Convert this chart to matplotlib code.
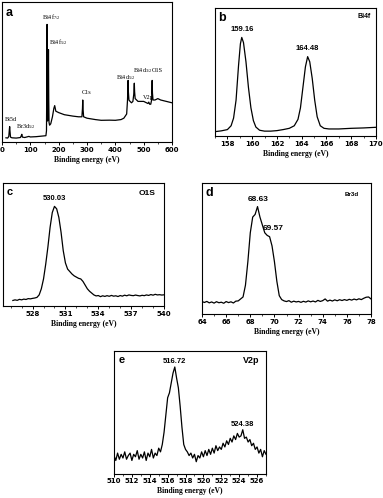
import numpy as np
import matplotlib
matplotlib.use("Agg")
import matplotlib.pyplot as plt
from matplotlib.ticker import MultipleLocator

plt.rcParams["mathtext.fontset"] = "custom"
plt.rcParams["mathtext.rm"] = "Liberation Serif"
plt.rcParams["mathtext.it"] = "Liberation Serif"
plt.rcParams["mathtext.default"] = "rm"

# ---- data (intensity in arbitrary units, 0-100 of frame) ----
# a: survey
a_energy = [14, 20, 24, 26, 27, 28.5, 30, 35, 50, 65, 68, 70, 72, 80, 95, 100, 120, 140,
            155, 157, 158, 159, 160, 161, 163, 164, 165, 166, 168, 172, 178, 183, 186, 190,
            200, 220, 250, 270, 282, 284, 285, 286, 288, 300, 330, 350, 380, 400, 420, 430,
            440, 443, 445, 446, 448, 452, 457, 462, 465, 467, 468, 470, 480, 490, 500, 510,
            515, 518, 521, 525, 528, 530, 531, 533, 540, 550, 560, 580, 600]
a_int = [3.0, 2.8, 4, 9, 11, 7, 3.5, 3.0, 2.8, 3.2, 4.5, 5.5, 3.5, 3.2, 4.0, 3.6, 3.8, 4.2,
         4.5, 8, 40, 84, 40, 15, 30, 66, 30, 14, 12, 13, 18, 24, 26, 22,
         21, 19.5, 18.5, 18, 18, 24, 30, 24, 18, 17, 16, 15.5, 15.6, 15.5, 16, 17,
         20, 30, 44, 36, 30, 29, 28, 29, 34, 42, 36, 31, 29, 29, 29, 28,
         27.5, 28.5, 27, 27, 30, 44, 35, 30, 30, 31, 30, 29, 28]

# b: Bi4f
b_energy = [157.0, 157.5, 158.0, 158.3, 158.5, 158.7, 158.9, 159.05, 159.16, 159.3, 159.5,
            159.7, 159.9, 160.1, 160.3, 160.6, 161.0, 161.5, 162.0, 162.5, 163.0, 163.4,
            163.7, 163.9, 164.1, 164.3, 164.48, 164.65, 164.85, 165.05, 165.25, 165.5,
            165.8, 166.2, 167.0, 168.0, 169.0, 170.0]
b_int = [3.4, 4.0, 5.0, 8, 14, 28, 55, 72, 77, 73, 58,
         38, 22, 12, 7, 4.5, 3.8, 3.8, 4.2, 5.0, 6.0, 8,
         13, 22, 38, 54, 62, 58, 45, 28, 15, 8,
         6, 5.5, 5.5, 6.0, 6.3, 6.8]

# c: O1S (526.2 .. 540.0, step 0.2)
c_int = [4.5, 5.0, 4.6, 5.4, 5.0, 5.6, 5.3, 6.0, 5.8, 6.2,
         6.5, 7.0, 9, 14, 22, 34, 48, 64, 76, 81,
         79, 72, 60, 45, 35, 30, 28, 26, 24.5, 23.5,
         22.5, 22, 20, 17, 14, 12, 10.5, 9.0, 8.2, 8.5,
         7.6, 8.3, 7.8, 8.4, 7.9, 8.6, 8.0, 8.3, 7.7, 8.5,
         8.0, 8.8, 8.3, 9.0, 8.6, 8.4, 8.9, 8.5, 8.2, 8.7,
         8.4, 9.0, 8.6, 9.3, 8.8, 9.5, 9.0, 9.2, 8.9, 9.1]

# d: Br3d (64.0 .. 78.0, step 0.2)
d_int = [9.5, 8.8, 9.6, 8.5, 9.2, 8.3, 9.4, 8.6, 9.0, 8.2,
         9.5, 8.7, 9.3, 8.4, 9.8, 10.0, 11.5, 13, 22, 40,
         62, 74, 76, 82, 74, 68, 62, 60, 59, 52,
         40, 25, 14, 11, 10, 9.5, 10.2, 9.0, 9.8, 9.2,
         9.6, 8.9, 9.7, 9.1, 10.0, 9.3, 9.9, 9.2, 10.4, 9.6,
         10.2, 11.5, 9.8, 10.6, 9.9, 10.8, 10.1, 10.9, 10.3, 11.0,
         10.4, 11.2, 10.6, 11.4, 10.8, 11.6, 11.0, 12.0, 12.8, 13.0,
         11.5]

# e: V2p (510.0 .. 527.0, step 0.2)
e_int = [15, 11, 17, 12, 16, 13, 18, 12, 15, 17,
         11, 16, 14, 19, 12, 16, 13, 18, 11, 17,
         14, 20, 13, 17, 15, 21, 18, 24, 34, 48,
         62, 66, 74, 82, 87, 78, 70, 55, 38, 24,
         20, 18, 15, 17, 13, 16, 10, 15, 13, 18,
         14, 19, 15, 20, 16, 21, 17, 23, 19, 22,
         20, 25, 22, 27, 24, 29, 26, 31, 28, 33,
         30, 31, 36, 29, 30, 26, 28, 23, 25, 20,
         22, 17, 20, 14, 19, 16]

c_energy = np.round(np.arange(526.2, 540.01, 0.2), 1)
d_energy = np.round(np.arange(64.0, 78.01, 0.2), 1)
e_energy = np.round(np.arange(510.0, 527.01, 0.2), 1)

W, H = 383, 498
fig = plt.figure(figsize=(W / 100, H / 100), dpi=100)


def box(l, t, r, b):
    return [l / W, (H - b) / H, (r - l) / W, (b - t) / H]


def setup(ax, xlim, major, minor, pad=1.5, labelpad=2):
    ax.set_xlim(*xlim)
    ax.set_ylim(0, 100)
    ax.set_yticks([])
    ax.xaxis.set_major_locator(MultipleLocator(major))
    ax.xaxis.set_minor_locator(MultipleLocator(minor))
    ax.tick_params(axis="x", which="major", direction="out", length=2.2, width=0.7,
                   labelsize=5, pad=pad)
    ax.tick_params(axis="x", which="minor", direction="out", length=1.2, width=0.5)
    for lab in ax.get_xticklabels():
        lab.set_fontweight("bold")
    for s in ax.spines.values():
        s.set_linewidth(0.8)
    ax.set_xlabel("Binding energy (eV)", fontsize=5.5, fontweight="bold",
                  family="Liberation Serif", labelpad=labelpad)


lw = 0.9
sans = "Liberation Sans"

# panel a
ax = fig.add_axes(box(2, 2, 172, 142))
ax.plot(a_energy, a_int, color="black", lw=lw)
setup(ax, (0, 600), 100, 50)
ax.text(0.02, 0.9, "a", transform=ax.transAxes, fontsize=9, fontweight="bold", family=sans)
kw = dict(fontsize=4.5, family="Liberation Serif", ha="left")
ax.text(10, 15, "Bi5d", **kw)
ax.text(50, 10, r"Br3d$_{5/2}$", **kw)
ax.text(140, 88, r"Bi4f$_{7/2}$", **kw)
ax.text(166, 70, r"Bi4f$_{5/2}$", **kw)
ax.text(280, 34, "C1s", **kw)
ax.text(402, 45, r"Bi4d$_{5/2}$", **kw)
ax.text(461, 50, r"Bi4d$_{3/2}$", **kw)
ax.text(497, 31, "V2p", **kw)
ax.text(528, 50, "O1S", **kw)

# panel b
ax = fig.add_axes(box(215, 8, 376, 136))
ax.plot(b_energy, b_int, color="black", lw=lw)
setup(ax, (157, 170), 2, 1)
ax.text(0.02, 0.9, "b", transform=ax.transAxes, fontsize=9, fontweight="bold", family=sans)
ax.text(0.97, 0.92, "Bi4f", transform=ax.transAxes, fontsize=5, fontweight="bold",
        family=sans, ha="right")
ax.text(159.16, 82, "159.16", fontsize=5.5, fontweight="bold", family=sans, ha="center")
ax.text(164.48, 67, "164.48", fontsize=5.5, fontweight="bold", family=sans, ha="center")

# panel c
ax = fig.add_axes(box(3, 183, 164, 306))
ax.plot(c_energy, c_int, color="black", lw=lw)
setup(ax, (525.3, 540), 3, 1)
ax.set_xticks([528, 531, 534, 537, 540])
for lab in ax.get_xticklabels():
    lab.set_fontweight("bold")
ax.text(0.02, 0.9, "c", transform=ax.transAxes, fontsize=8, fontweight="bold", family=sans)
ax.text(0.95, 0.9, "O1S", transform=ax.transAxes, fontsize=6, fontweight="bold",
        family=sans, ha="right")
ax.text(530.03, 86, "530.03", fontsize=5.5, fontweight="bold", family=sans, ha="center")

# panel d
ax = fig.add_axes(box(202, 183, 371, 314))
ax.plot(d_energy, d_int, color="black", lw=lw)
setup(ax, (64, 78), 2, 1)
ax.text(0.02, 0.9, "d", transform=ax.transAxes, fontsize=9, fontweight="bold", family=sans)
ax.text(0.93, 0.9, "Br3d", transform=ax.transAxes, fontsize=4.5, fontweight="bold",
        family=sans, ha="right")
ax.text(68.63, 86, "68.63", fontsize=6, fontweight="bold", family=sans, ha="center")
ax.text(69.9, 64, "69.57", fontsize=6, fontweight="bold", family=sans, ha="center")

# panel e
ax = fig.add_axes(box(114, 351, 266, 474))
ax.plot(e_energy, e_int, color="black", lw=lw)
setup(ax, (510, 527), 2, 1, pad=1, labelpad=1.5)
ax.text(0.03, 0.9, "e", transform=ax.transAxes, fontsize=8, fontweight="bold", family=sans)
ax.text(0.96, 0.9, "V2p", transform=ax.transAxes, fontsize=6.5, fontweight="bold",
        family=sans, ha="right")
ax.text(516.72, 90, "516.72", fontsize=5.5, fontweight="bold", family=sans, ha="center")
ax.text(524.38, 39, "524.38", fontsize=5.5, fontweight="bold", family=sans, ha="center")

fig.savefig("out.png", dpi=100)
